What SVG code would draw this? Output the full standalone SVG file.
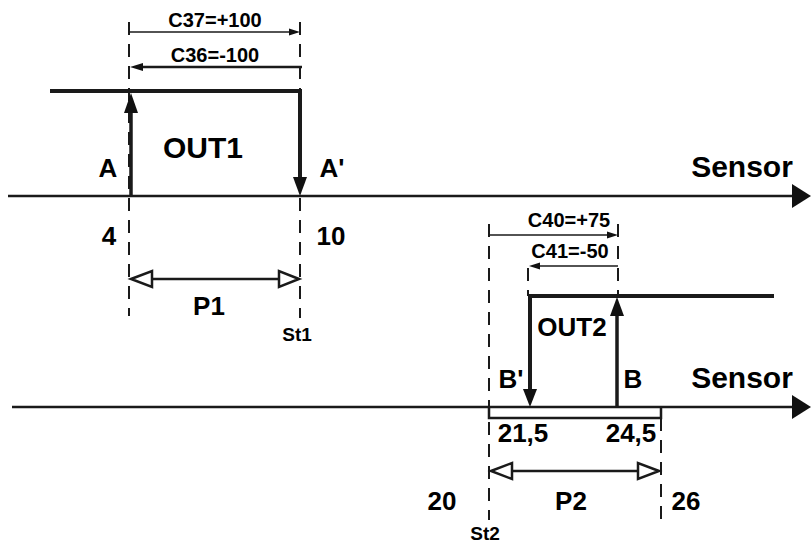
<svg xmlns="http://www.w3.org/2000/svg" width="811" height="543" viewBox="0 0 811 543">
<style>
text{font-family:"Liberation Sans",Arial,sans-serif;font-weight:bold;fill:#000;text-anchor:middle}
.dim{font-size:20px}
.lbl{font-size:26px}
.big{font-size:30px}
.st{font-size:19px}
.axis{stroke:#1a1a1a;stroke-width:2.5;fill:none}
.sig{stroke:#1a1a1a;stroke-width:4;fill:none}
.edge{stroke:#1a1a1a;stroke-width:3.5;fill:none}
.dash{stroke:#1a1a1a;stroke-width:2;stroke-dasharray:13 9;fill:none}
.thin{stroke:#1a1a1a;stroke-width:1.6;fill:none}
.mid{stroke:#1a1a1a;stroke-width:2.5;fill:none}
.head{fill:#111;stroke:none}
.open{fill:#fff;stroke:#1a1a1a;stroke-width:2.5}
</style>
<rect width="811" height="543" fill="#fff"/>
<g id="guides">
<line class="dash" x1="129" y1="22" x2="129" y2="316"/>
<line class="dash" x1="300" y1="22" x2="300" y2="318"/>
<line class="dash" x1="489" y1="224" x2="489" y2="520"/>
<line class="dash" x1="618" y1="224" x2="618" y2="296"/>
<line class="dash" x1="528" y1="268" x2="528" y2="296" stroke-dasharray="12 8"/>
<line class="dash" x1="661" y1="418" x2="661" y2="522"/>
</g>
<g id="axis1">
<line class="axis" x1="8" y1="196" x2="795" y2="196"/>
<polygon class="head" points="811,196 792,184 792,208"/>
<text class="big" x="742" y="177">Sensor</text>
</g>
<g id="axis2">
<line class="axis" x1="12" y1="407" x2="795" y2="407"/>
<polygon class="head" points="811,407 792,395 792,419"/>
<text class="big" x="742" y="388">Sensor</text>
</g>
<g id="out1">
<polyline class="sig" points="50,91 300,91 300,178"/>
<polygon class="head" points="300,196 293,177 307,177"/>
<line class="edge" x1="131" y1="196" x2="131" y2="112"/>
<polygon class="head" points="131,93 124,113 138,113"/>
<text class="big" x="203" y="158">OUT1</text>
<text class="lbl" x="108" y="177">A</text>
<text class="lbl" x="332" y="177">A'</text>
<text class="lbl" x="109" y="245">4</text>
<text class="lbl" x="331" y="245">10</text>
</g>
<g id="out2">
<polyline class="sig" points="774,296 530,296 530,390"/>
<polygon class="head" points="530,407 523,389 537,389"/>
<line class="edge" x1="617" y1="407" x2="617" y2="315"/>
<polygon class="head" points="617,297 610,316 624,316"/>
<path class="mid" d="M489,407 V418 H661 V407" stroke-width="3"/>
<text class="lbl" x="572" y="336">OUT2</text>
<text class="lbl" x="511" y="388" font-size="24">B'</text>
<text class="lbl" x="633" y="388" font-size="24">B</text>
<text class="lbl" x="523" y="442">21,5</text>
<text class="lbl" x="631" y="442">24,5</text>
<text class="lbl" x="442" y="510">20</text>
<text class="lbl" x="686" y="510">26</text>
</g>
<g id="connectors">
<line class="thin" x1="129" y1="32" x2="292" y2="32"/>
<polygon class="head" points="300,32 289,28.5 289,35.5"/>
<line class="mid" x1="140" y1="67" x2="302" y2="67"/>
<polygon class="head" points="130,67 143,63 143,71"/>
<line class="thin" x1="489" y1="235" x2="610" y2="235"/>
<polygon class="head" points="618,235 607,231.5 607,238.5"/>
<line class="thin" x1="538" y1="266" x2="618" y2="266"/>
<polygon class="head" points="529,266 540,262.5 540,269.5"/>
<line class="mid" x1="150" y1="279" x2="282" y2="279"/>
<polygon class="open" points="131,279 152,271 152,287"/>
<polygon class="open" points="299,279 279,271 279,287"/>
<line class="mid" x1="510" y1="471" x2="641" y2="471"/>
<polygon class="open" points="491,471 512,463 512,479"/>
<polygon class="open" points="659,471 638,463 638,479"/>
</g>
<g id="labels">
<text class="dim" x="215" y="27">C37=+100</text>
<text class="dim" x="215" y="62">C36=-100</text>
<text class="dim" x="569" y="227">C40=+75</text>
<text class="dim" x="570" y="258">C41=-50</text>
<text class="lbl" x="209" y="315" font-size="25">P1</text>
<text class="lbl" x="571" y="510">P2</text>
<text class="st" x="297" y="341">St1</text>
<text class="st" x="485" y="540">St2</text>
</g>
</svg>
